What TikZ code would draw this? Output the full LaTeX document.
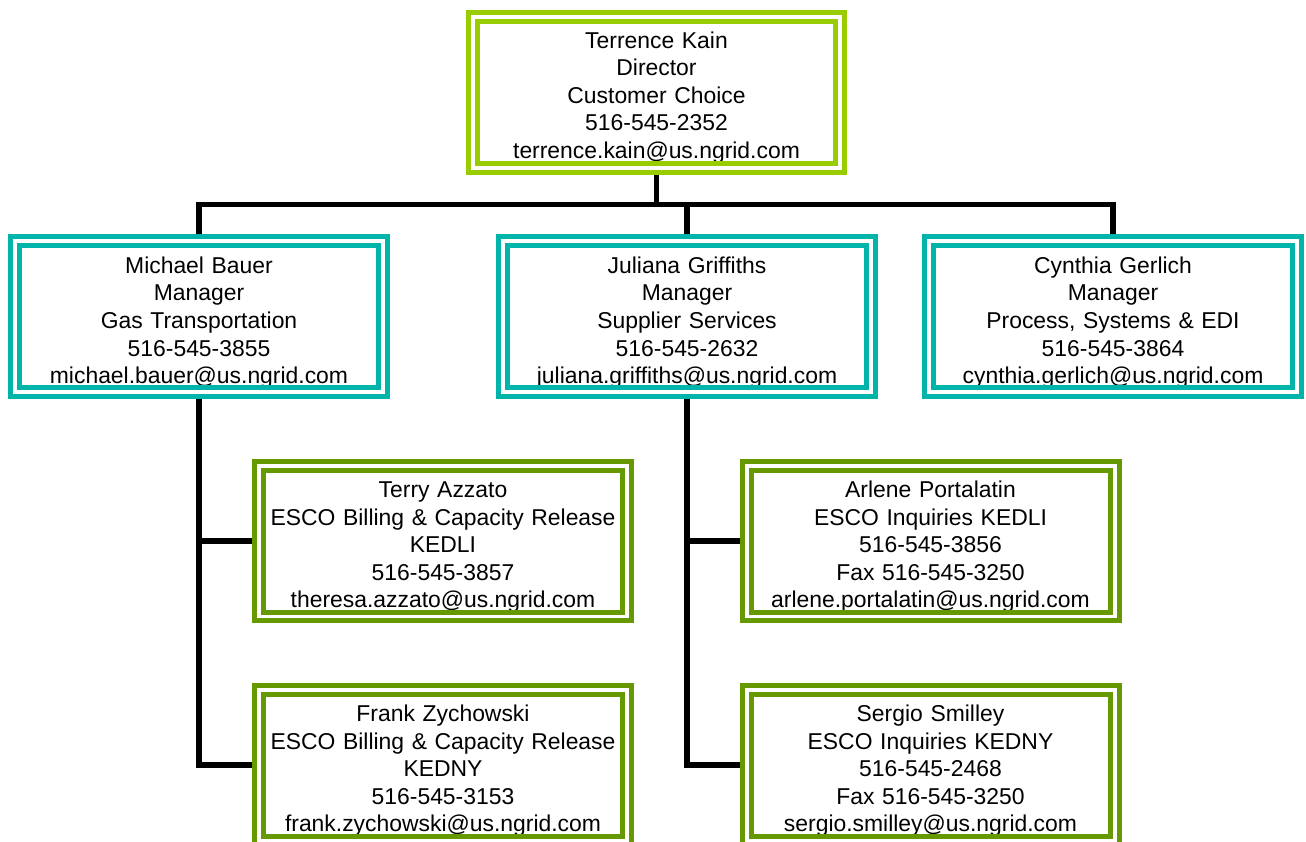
\documentclass[tikz,border=0pt]{standalone}
\usepackage{fontspec}
\setmainfont{Liberation Sans}
\definecolor{lime}{RGB}{153,204,0}
\definecolor{teal2}{RGB}{0,180,170}
\definecolor{olive2}{RGB}{102,153,0}
\begin{document}
\begin{tikzpicture}[x=1pt,y=-1pt,
  card/.style={draw=#1, line width=5pt, minimum width=377pt, minimum height=159pt, inner sep=0pt,
    append after command={\pgfextra{\draw[draw=#1, line width=5pt]
      ([shift={(11.5pt,11pt)}]\tikzlastnode.south west) rectangle ([shift={(-11.5pt,-11.5pt)}]\tikzlastnode.north east);}}},
  txt/.style={anchor=base, text width=372pt, align=center, inner sep=0pt,
    font=\fontsize{22.9}{27.5}\selectfont},
  link/.style={line width=5.5pt, black, line join=miter}]
\clip (0,0) rectangle (1306,842);
% positions
\coordinate (ptk) at (656.5,92.5);
\coordinate (pmb) at (199,316.5);
\coordinate (pjg) at (687,316.5);
\coordinate (pcg) at (1113,316.5);
\coordinate (pta) at (443,541);
\coordinate (pfz) at (443,765);
\coordinate (pap) at (930.5,541);
\coordinate (pss) at (930.5,765);
% texts (under the borders)
\node[txt] (ttk) at ([yshift=-38.5pt]ptk |- 0,10) {Terrence Kain\\Director\\Customer Choice\\516-545-2352\\terrence.kain@us.ngrid.com};
\node[txt] (tmb) at ([yshift=-38.5pt]pmb |- 0,235) {Michael Bauer\\Manager\\Gas Transportation\\516-545-3855\\michael.bauer@us.ngrid.com};
\node[txt] (tjg) at ([yshift=-38.5pt]pjg |- 0,235) {Juliana Griffiths\\Manager\\Supplier Services\\516-545-2632\\juliana.griffiths@us.ngrid.com};
\node[txt] (tcg) at ([yshift=-38.5pt]pcg |- 0,235) {Cynthia Gerlich\\Manager\\Process, Systems \& EDI\\516-545-3864\\cynthia.gerlich@us.ngrid.com};
\node[txt] (tta) at ([yshift=-38.5pt]pta |- 0,459) {Terry Azzato\\ESCO Billing \& Capacity Release\\KEDLI\\516-545-3857\\theresa.azzato@us.ngrid.com};
\node[txt] (tfz) at ([yshift=-38.5pt]pfz |- 0,683) {Frank Zychowski\\ESCO Billing \& Capacity Release\\KEDNY\\516-545-3153\\frank.zychowski@us.ngrid.com};
\node[txt] (tap) at ([yshift=-38.5pt]pap |- 0,459) {Arlene Portalatin\\ESCO Inquiries KEDLI\\516-545-3856\\Fax 516-545-3250\\arlene.portalatin@us.ngrid.com};
\node[txt] (tss) at ([yshift=-38.5pt]pss |- 0,683) {Sergio Smilley\\ESCO Inquiries KEDNY\\516-545-2468\\Fax 516-545-3250\\sergio.smilley@us.ngrid.com};
% boxes
\node[card=lime, minimum width=376pt, minimum height=160pt] (tk) at (ptk) {};
\node[card=teal2] (mb) at (pmb) {};
\node[card=teal2] (jg) at (pjg) {};
\node[card=teal2] (cg) at (pcg) {};
\node[card=olive2] (ta) at (pta) {};
\node[card=olive2] (fz) at (pfz) {};
\node[card=olive2] (ap) at (pap) {};
\node[card=olive2] (ss) at (pss) {};
% connectors
\coordinate (bus) at (0,204.5);
\draw[link] (tk.south) -- (tk.south |- bus);
\draw[link] (mb.north) -- (mb.north |- bus) -- (cg.north |- bus) -- (cg.north);
\draw[link] (jg.north |- bus) -- (jg.north);
\draw[link] (mb.south) -- (mb.south |- fz.west) -- (fz.west);
\draw[link] (mb.south |- ta.west) -- (ta.west);
\draw[link] (jg.south) -- (jg.south |- ss.west) -- (ss.west);
\draw[link] (jg.south |- ap.west) -- (ap.west);
\end{tikzpicture}
\end{document}
